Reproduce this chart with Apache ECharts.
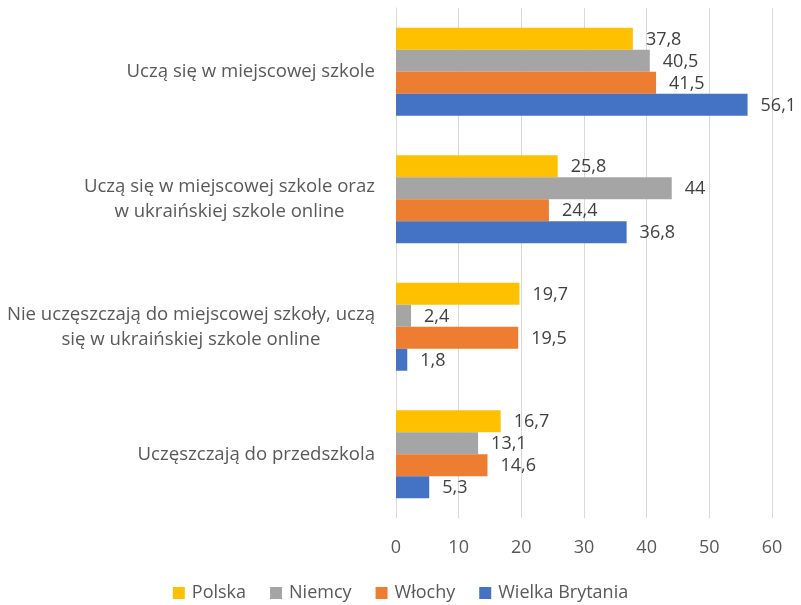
<!DOCTYPE html>
<html>
<head>
<meta charset="utf-8">
<script src="https://cdn.jsdelivr.net/npm/echarts@6/dist/echarts.min.js"></script>
<style>
  html, body { margin: 0; padding: 0; background: #fff; }
  #main { width: 801px; height: 605px; }
</style>
</head>
<body>
<div id="main"></div>
<script>
var categories = [
    'Uczą się w miejscowej szkole',
    'Uczą się w miejscowej szkole oraz\nw ukraińskiej szkole online',
    'Nie uczęszczają do miejscowej szkoły, uczą\nsię w ukraińskiej szkole online',
    'Uczęszczają do przedszkola'
];
var seriesNames = ['Polska', 'Niemcy', 'Włochy', 'Wielka Brytania'];
var polska = [37.8, 25.8, 19.7, 16.7];
var niemcy = [40.5, 44, 2.4, 13.1];
var wlochy = [41.5, 24.4, 19.5, 14.6];
var wielkaBrytania = [56.1, 36.8, 1.8, 5.3];
var xTicks = [0, 10, 20, 30, 40, 50, 60];

var colors = ['#FFC000', '#A5A5A5', '#ED7D31', '#4472C4'];
var font = '"Open Sans", sans-serif';
var fs = 18;
var catFs = 18.6;

function makeSeries(name, values, color) {
    return {
        name: name,
        type: 'bar',
        data: values,
        barGap: '0%',
        barCategoryGap: '31%',
        itemStyle: { color: color },
        label: {
            show: true,
            position: 'right',
            distance: 13,
            offset: [0, 1],
            color: '#404040',
            fontSize: fs,
            fontFamily: font,
            formatter: function (p) { return String(p.value).replace('.', ','); }
        }
    };
}

var chart = echarts.init(document.getElementById('main'));
var option = {
    animation: false,
    color: colors,
    grid: { left: 396, right: 29, top: 8, bottom: 87, containLabel: false },
    legend: {
        bottom: 0,
        padding: [5, 5, 3, 5],
        left: 'center',
        itemWidth: 12,
        itemHeight: 12,
        itemGap: 24,
        icon: 'rect',
        textStyle: { color: '#595959', fontSize: fs, fontFamily: font, padding: [0, 0, 0, 2] },
        data: seriesNames
    },
    xAxis: {
        type: 'value',
        min: xTicks[0],
        max: xTicks[xTicks.length - 1],
        interval: 10,
        axisLine: { show: false },
        axisTick: { show: false },
        splitLine: { lineStyle: { color: '#D9D9D9', width: 1 } },
        axisLabel: { color: '#595959', fontSize: fs, fontFamily: font, margin: 21 }
    },
    yAxis: {
        type: 'category',
        inverse: true,
        data: categories,
        axisLine: { show: true, lineStyle: { color: '#D9D9D9' } },
        axisTick: { show: false },
        axisLabel: {
            margin: 21,
            color: '#595959',
            fontSize: catFs,
            fontFamily: font,
            formatter: function (v) {
                return v.split('\n').map(function (l) { return '{c|' + l + '}'; }).join('\n');
            },
            rich: {
                c: { align: 'center', color: '#595959', fontSize: catFs, fontFamily: font, lineHeight: 25 }
            }
        }
    },
    series: [
        makeSeries(seriesNames[0], polska, colors[0]),
        makeSeries(seriesNames[1], niemcy, colors[1]),
        makeSeries(seriesNames[2], wlochy, colors[2]),
        makeSeries(seriesNames[3], wielkaBrytania, colors[3])
    ]
};
chart.setOption(option);
</script>
</body>
</html>
